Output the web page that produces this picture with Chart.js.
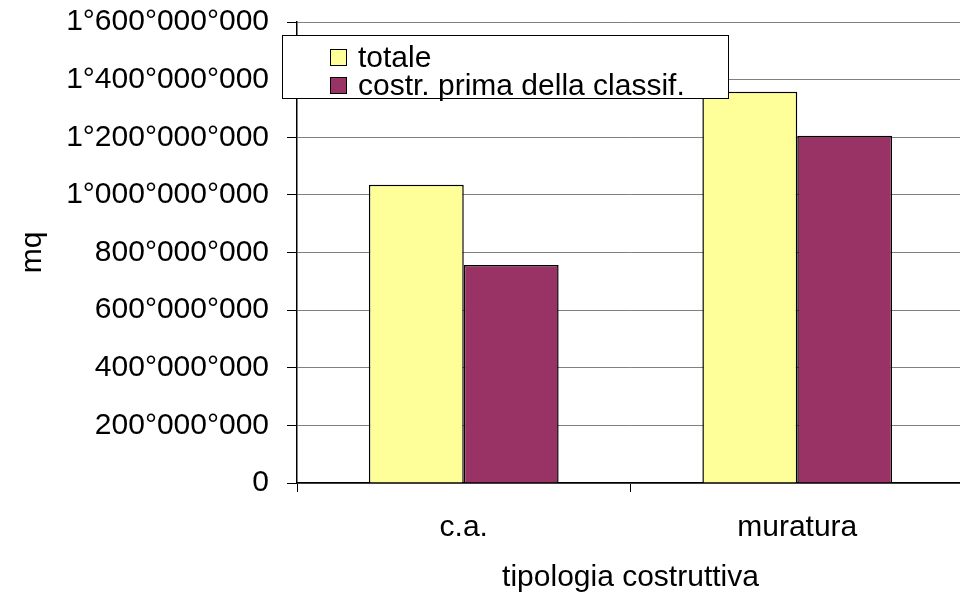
<!DOCTYPE html>
<html>
<head>
<meta charset="utf-8">
<script src="https://cdn.jsdelivr.net/npm/chart.js@4.4.1/dist/chart.umd.min.js"></script>
<style>
  html, body { margin: 0; padding: 0; background: #fff; overflow: hidden; }
  #wrap { position: relative; width: 964px; height: 602px; }
  #legend {
    position: absolute; left: 282px; top: 35px; width: 445px; height: 62px;
    background: #fff; border: 1px solid #000; box-sizing: content-box;
    font-family: "Liberation Sans", Arial, sans-serif; font-size: 30px; color: #000;
  }
  .item { position: absolute; left: 47px; height: 28px; line-height: 28px; white-space: nowrap; }
  .sw { position: absolute; left: 0; top: 2px; width: 15px; height: 15px; border: 1.5px solid #000; }
  .lt { position: absolute; left: 28px; top: -4px; }
</style>
</head>
<body>
<div id="wrap">
  <canvas id="c" width="964" height="602"></canvas>
  <div id="legend"></div>
</div>
<script>
const categories = ["c.a.", "muratura"];
const seriesNames = ["totale", "costr. prima della classif."];
const totale = [1035000000, 1358000000];
const primaClassif = [757000000, 1205000000];
const yTickValues = [0, 200000000, 400000000, 600000000, 800000000, 1000000000, 1200000000, 1400000000, 1600000000];
const colors = ["#FFFF99", "#993366"];

const FONT = '"Liberation Sans", Arial, sans-serif';
function fmt(v) {
  return String(v).replace(/\B(?=(\d{3})+(?!\d))/g, "°");
}

const chart = new Chart(document.getElementById("c"), {
  type: "bar",
  data: {
    labels: categories,
    datasets: [
      { label: seriesNames[0], data: totale, backgroundColor: colors[0], borderColor: "#000", borderWidth: 1.5 },
      { label: seriesNames[1], data: primaClassif, backgroundColor: colors[1], borderColor: "#000", borderWidth: 1.5 }
    ]
  },
  options: {
    responsive: false,
    animation: false,
    layout: { padding: { top: 0, right: 0, left: 0, bottom: 0 } },
    datasets: { bar: { categoryPercentage: 0.569, barPercentage: 1.0 } },
    plugins: { legend: { display: false }, tooltip: { enabled: false } },
    scales: {
      x: {
        afterFit: s => { s.height = 119; },
        offset: true,
        grid: { display: true, drawOnChartArea: false, drawTicks: true, tickLength: 9, color: "#000", offset: true },
        border: { display: true, color: "#000", width: 1.5 },
        ticks: { color: "#000", padding: 18, font: { family: FONT, size: 30 } },
        title: { display: true, text: "tipologia costruttiva", color: "#000", font: { family: FONT, size: 30 }, padding: { top: 0, bottom: 6 } }
      },
      y: {
        min: 0, max: 1600000000,
        afterFit: s => { s.width = 297; s.paddingTop = 22; },
        afterBuildTicks: s => { s.ticks = yTickValues.map(v => ({ value: v })); },
        grid: { color: "#808080", lineWidth: 1, tickColor: "#000", tickLength: 10, drawTicks: true },
        border: { display: true, color: "#000", width: 1.5 },
        ticks: { color: "#000", padding: 18, font: { family: FONT, size: 30 }, callback: v => fmt(v) },
        title: { display: true, text: "mq", color: "#000", font: { family: FONT, size: 30 }, padding: { top: 15, bottom: 0 } }
      }
    }
  }
});

const leg = document.getElementById("legend");
chart.data.datasets.forEach((ds, i) => {
  const it = document.createElement("div");
  it.className = "item";
  it.style.top = (11 + i * 28) + "px";
  const sw = document.createElement("span");
  sw.className = "sw";
  sw.style.background = ds.backgroundColor;
  const t = document.createElement("span");
  t.className = "lt";
  t.textContent = ds.label;
  it.appendChild(sw); it.appendChild(t);
  leg.appendChild(it);
});
</script>
</body>
</html>
